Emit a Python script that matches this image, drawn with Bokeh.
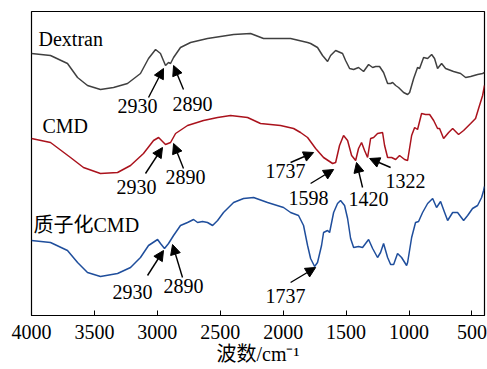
from bokeh.plotting import figure
from bokeh.models import Range1d, FixedTicker, Arrow, NormalHead, ColumnDataSource
from bokeh.core.properties import value
from bokeh.embed import file_html
from bokeh.resources import INLINE

# FTIR spectra (wavenumber in cm^-1, offset transmittance in arbitrary units)
dextran_wn = [4000, 3849, 3714, 3634, 3555, 3452, 3348, 3237, 3134, 3070, 3014, 2975, 2935,
              2911, 2895, 2871, 2816, 2736, 2601, 2394, 2259, 2156, 1941, 1806, 1782, 1727,
              1687, 1647, 1623, 1583, 1528, 1504, 1472, 1440, 1401, 1361, 1321, 1289, 1265,
              1234, 1202, 1170, 1146, 1130, 1106, 1083, 1043, 1011, 995, 963, 932, 916, 884,
              852, 820, 797, 773, 741, 709, 646, 590, 550, 510, 455, 415, 400]
dextran_t = [262, 260, 252, 238, 230, 226, 228, 232, 242, 257, 266, 262, 250,
             253, 252, 258, 268, 273, 277, 281, 282, 277, 277, 273, 272, 268,
             260, 254, 260, 265, 262, 255, 247, 246, 248, 244, 251, 248, 249,
             249, 243, 232, 232, 233, 230, 228, 223, 221, 223, 237, 248, 247, 258,
             257, 261, 257, 247, 252, 247, 244, 242, 238, 239, 241, 242, 243]

cmd_wn = [4000, 3849, 3690, 3587, 3452, 3316, 3213, 3110, 3030, 2990, 2935, 2895, 2855,
          2760, 2633, 2521, 2418, 2283, 2180, 2021, 1917, 1862, 1806, 1742, 1679, 1607,
          1583, 1552, 1520, 1488, 1456, 1424, 1401, 1377, 1353, 1329, 1305, 1281, 1250,
          1210, 1194, 1170, 1138, 1106, 1075, 1035, 1011, 979, 955, 932, 900, 868, 836,
          804, 773, 757, 725, 685, 653, 606, 566, 510, 471, 447, 415, 400]
cmd_t = [177, 173, 158, 148, 142, 143, 150, 162, 175, 178, 171, 173, 182,
         190, 195, 198, 200, 198, 192, 190, 187, 183, 178, 167, 158, 152,
         153, 170, 180, 175, 160, 155, 167, 173, 165, 158, 177, 178, 182,
         183, 170, 158, 158, 156, 160, 156, 155, 180, 188, 186, 202, 201, 201,
         195, 187, 187, 177, 183, 187, 181, 185, 192, 197, 207, 220, 230]

pcmd_wn = [4000, 3849, 3714, 3634, 3555, 3452, 3316, 3213, 3134, 3070, 2998, 2975, 2943,
           2911, 2871, 2816, 2760, 2712, 2680, 2641, 2601, 2561, 2521, 2474, 2394, 2315,
           2235, 2124, 1997, 1941, 1878, 1838, 1806, 1782, 1750, 1727, 1695, 1679, 1647,
           1631, 1599, 1568, 1544, 1512, 1488, 1464, 1440, 1401, 1369, 1345, 1321, 1289,
           1250, 1226, 1202, 1170, 1146, 1122, 1091, 1059, 1019, 1011, 979, 948, 924, 892,
           852, 812, 781, 749, 717, 693, 653, 614, 566, 534, 495, 455, 423, 407, 400]
pcmd_t = [75, 73, 65, 53, 43, 39, 42, 48, 58, 70, 76, 72, 67,
          72, 80, 90, 93, 96, 93, 94, 93, 90, 95, 103, 113, 117,
          118, 113, 108, 103, 100, 90, 70, 57, 49, 53, 70, 83, 85,
          83, 103, 112, 115, 110, 97, 77, 68, 69, 68, 72, 76, 67,
          58, 63, 72, 58, 51, 51, 62, 58, 50, 53, 78, 93, 94, 103,
          112, 117, 108, 114, 103, 95, 103, 103, 95, 100, 107, 110, 118, 125, 129]

x_ticks = [4000, 3500, 3000, 2500, 2000, 1500, 1000, 500]
x_title = "波数/cm⁻¹"

# Curve names
names = ["Dextran", "CMD", "质子化CMD"]
name_wn = [3944, 3913, 3984]
name_t = [277, 190, 91]

# Peak labels and their pointer arrows
peak_text = ["2930", "2890", "2930", "2890", "2930", "2890", "1737", "1598", "1420", "1322", "1737"]
peak_text_wn = [3157, 2720, 3165, 2776, 3197, 2792, 1981, 1798, 1321, 1027, 1981]
peak_text_t = [210, 212, 129, 139, 24, 30, 145, 118, 117, 135, 20]
arrow_wn0 = [3070, 2792, 3094, 2792, 3078, 2800, 1941, 1782, 1369, 1146, 1941]
arrow_t0 = [218, 226, 142, 147, 40, 38, 153, 132, 128, 148, 33]
arrow_wn1 = [2951, 2871, 2959, 2871, 2951, 2879, 1758, 1599, 1417, 1313, 1742]
arrow_t1 = [247, 250, 168, 172, 65, 71, 163, 146, 153, 157, 48]

SERIF = "'Liberation Serif', 'Noto Sans CJK SC'"

p = figure(width=487, height=369, output_backend="svg", toolbar_location=None,
           x_range=Range1d(4000, 400), y_range=Range1d(0, 304),
           min_border_left=31, min_border_right=3, min_border_top=11, min_border_bottom=54)
p.frame_width = 453
p.frame_height = 304
p.background_fill_color = "white"
p.border_fill_color = "white"
p.outline_line_color = "black"
p.outline_line_width = 1.2
p.grid.visible = False
p.yaxis.visible = False

ax = p.xaxis[0]
ax.ticker = FixedTicker(ticks=x_ticks)
ax.axis_line_color = "black"
ax.axis_line_width = 1.2
ax.major_tick_in = 5
ax.major_tick_out = 0
ax.major_tick_line_color = "black"
ax.minor_tick_line_color = None
ax.major_label_text_font = SERIF
ax.major_label_text_font_size = "20px"
ax.major_label_text_color = "black"
ax.major_label_standoff = 9
ax.axis_label = x_title
ax.axis_label_text_font = SERIF
ax.axis_label_text_font_size = "20px"
ax.axis_label_text_font_style = "normal"
ax.axis_label_text_color = "black"
ax.axis_label_standoff = 1

p.line(dextran_wn, dextran_t, line_color="#404040", line_width=1.5)
p.line(cmd_wn, cmd_t, line_color="#aa121c", line_width=1.5)
p.line(pcmd_wn, pcmd_t, line_color="#1f4e9c", line_width=1.5)

p.text(x=name_wn, y=name_t, text=names, text_font=value(SERIF),
       text_font_size="20px", text_align="left", text_baseline="middle", text_color="black")

p.text(x=peak_text_wn, y=peak_text_t, text=peak_text, text_font=value(SERIF),
       text_font_size="20px", text_align="center", text_baseline="middle", text_color="black")

arrows = ColumnDataSource(dict(x0=arrow_wn0, y0=arrow_t0, x1=arrow_wn1, y1=arrow_t1))
p.add_layout(Arrow(end=NormalHead(size=10, fill_color="black", line_color="black", line_width=1),
                   x_start="x0", y_start="y0", x_end="x1", y_end="y1", source=arrows,
                   line_color="black", line_width=1.4))

open("out.html", "w").write(file_html(p, INLINE))
